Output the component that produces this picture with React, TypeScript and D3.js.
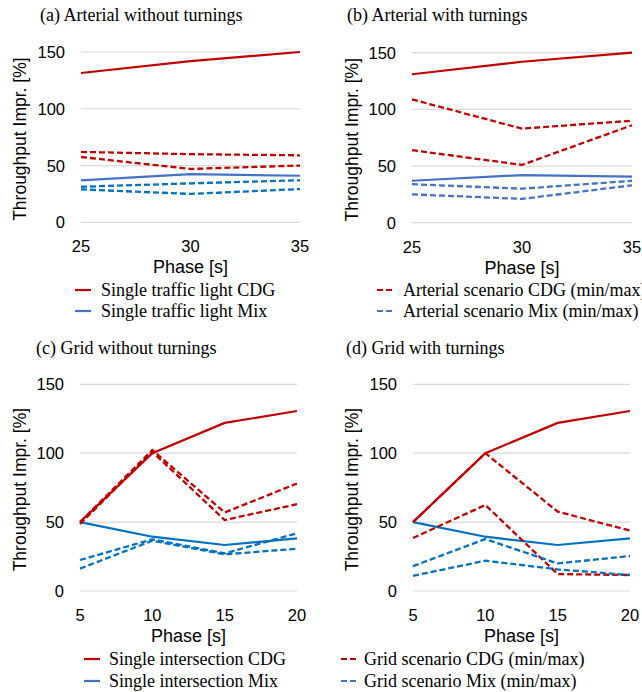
import { useEffect, useRef } from "react";
import * as d3 from "d3";

// phase values (x) for the two scenario groups
const arterialPhases = [25, 30, 35];
const gridPhases = [5, 10, 15, 20];
const yTicks = [0, 50, 100, 150];

// (a) Arterial without turnings
const aSingleCdg = [131.5, 142, 150];
const aSingleMix = [37, 42.5, 41];
const aCdgMax = [62, 60, 59];
const aCdgMin = [57.5, 47, 50];
const aMixMax = [31.3, 34.3, 37];
const aMixMin = [29, 25, 29.3];

// (b) Arterial with turnings
const bSingleCdg = [131, 142, 150];
const bSingleMix = [37, 42, 40.6];
const bCdgMax = [108.8, 83, 90];
const bCdgMin = [64, 51, 86];
const bMixMax = [34, 30, 37];
const bMixMin = [25, 21, 33];

// (c) Grid without turnings
const cSingleCdg = [50, 100, 122, 130.6];
const cSingleMix = [50, 39.4, 33.4, 38.2];
const cCdgMax = [50, 102.3, 57, 78];
const cCdgMin = [48.6, 101, 51.5, 63];
const cMixMax = [22.5, 37.5, 27.3, 41.9];
const cMixMin = [16.2, 36.5, 26.6, 30.7];

// (d) Grid with turnings
const dSingleCdg = [50, 100, 122, 130.6];
const dSingleMix = [50, 39.4, 33.4, 38.2];
const dCdgMax = [50, 100, 57.6, 43.8];
const dCdgMin = [38.5, 62.4, 12.3, 11.6];
const dMixMax = [18, 37.7, 20, 25.4];
const dMixMin = [11, 22, 15.7, 11.6];

const RED = "#C00000";
const BLUE_A = "#4472C4";
const BLUE_B = "#0070C0";
const SANS = "'Liberation Sans', Arial, sans-serif";
const SERIF = "'Liberation Serif', 'Times New Roman', serif";

export default function App() {
  const svgRef = useRef(null);

  useEffect(() => {
    const svg = d3.select(svgRef.current);
    svg.selectAll("*").remove();

    const panels = [
      {
        title: "(a) Arterial without turnings", tx: 40, ty: 21,
        x0: 81, x1: 300, y0: 222.3, y1: 52, labelX: 20, phases: arterialPhases,
        solidBlue: BLUE_A, dashBlue: BLUE_B,
        series: [aSingleCdg, aSingleMix, aCdgMax, aCdgMin, aMixMax, aMixMin],
      },
      {
        title: "(b) Arterial with turnings", tx: 347, ty: 21,
        x0: 412, x1: 632, y0: 222.7, y1: 52.7, labelX: 352, phases: arterialPhases,
        solidBlue: BLUE_A, dashBlue: BLUE_A,
        series: [bSingleCdg, bSingleMix, bCdgMax, bCdgMin, bMixMax, bMixMin],
      },
      {
        title: "(c) Grid without turnings", tx: 36, ty: 354,
        x0: 80, x1: 297, y0: 591, y1: 384.3, labelX: 20, phases: gridPhases,
        solidBlue: BLUE_B, dashBlue: BLUE_B,
        series: [cSingleCdg, cSingleMix, cCdgMax, cCdgMin, cMixMax, cMixMin],
      },
      {
        title: "(d) Grid with turnings", tx: 346, ty: 354,
        x0: 413, x1: 630, y0: 591, y1: 384.3, labelX: 352, phases: gridPhases,
        solidBlue: BLUE_B, dashBlue: BLUE_B,
        series: [dSingleCdg, dSingleMix, dCdgMax, dCdgMin, dMixMax, dMixMin],
      },
    ];

    panels.forEach((p) => {
      const g = svg.append("g");
      const x = d3
        .scaleLinear()
        .domain(d3.extent(p.phases))
        .range([p.x0, p.x1]);
      const y = d3.scaleLinear().domain([0, 150]).range([p.y0, p.y1]);

      g.append("text")
        .attr("x", p.tx)
        .attr("y", p.ty)
        .style("font-family", SERIF)
        .style("font-size", "18px")
        .text(p.title);

      // gridlines
      g.selectAll(".grid")
        .data(yTicks)
        .enter()
        .append("line")
        .attr("x1", p.x0)
        .attr("x2", p.x1)
        .attr("y1", (d) => y(d))
        .attr("y2", (d) => y(d))
        .attr("stroke", "#d9d9d9")
        .attr("stroke-width", 1.2);

      g.selectAll(".ytick")
        .data(yTicks)
        .enter()
        .append("text")
        .attr("x", p.x0 - 16)
        .attr("y", (d) => y(d) + 6)
        .attr("text-anchor", "end")
        .style("font-family", SANS)
        .style("font-size", "16.5px")
        .text((d) => d);

      g.selectAll(".xtick")
        .data(p.phases)
        .enter()
        .append("text")
        .attr("x", (d) => x(d))
        .attr("y", p.y0 + 30)
        .attr("text-anchor", "middle")
        .style("font-family", SANS)
        .style("font-size", "16.5px")
        .text((d) => d);

      g.append("text")
        .attr("x", (p.x0 + p.x1) / 2)
        .attr("y", p.y0 + 51)
        .attr("text-anchor", "middle")
        .style("font-family", SANS)
        .style("font-size", "18px")
        .text("Phase [s]");

      g.append("text")
        .attr("transform", `translate(${p.labelX + 6}, ${(p.y0 + p.y1) / 2 + 2}) rotate(-90)`)
        .attr("text-anchor", "middle")
        .style("font-family", SANS)
        .style("font-size", "17.5px")
        .text("Throughput Impr. [%]");

      const line = d3
        .line()
        .x((d, i) => x(p.phases[i]))
        .y((d) => y(d));

      const styles = [
        { c: RED, dash: null },
        { c: p.solidBlue, dash: null },
        { c: RED, dash: "6,3" },
        { c: RED, dash: "6,3" },
        { c: p.dashBlue, dash: "6,3" },
        { c: p.dashBlue, dash: "6,3" },
      ];
      p.series.forEach((s, i) => {
        g.append("path")
          .datum(s)
          .attr("d", line)
          .attr("fill", "none")
          .attr("stroke", styles[i].c)
          .attr("stroke-width", styles[i].dash ? 2.3 : 2.2)
          .attr("stroke-dasharray", styles[i].dash);
      });
    });

    // legends
    const legends = [
      { x: 75, tx: 101, y: 290, text: "Single traffic light CDG", c: RED, dash: null },
      { x: 75, tx: 101, y: 311, text: "Single traffic light Mix", c: BLUE_A, dash: null },
      { x: 377, tx: 403, y: 290, text: "Arterial scenario CDG (min/max)", c: RED, dash: "6,3" },
      { x: 377, tx: 403, y: 311, text: "Arterial scenario Mix (min/max)", c: BLUE_A, dash: "6,3" },
      { x: 84, tx: 109, y: 659, text: "Single intersection CDG", c: RED, dash: null },
      { x: 84, tx: 109, y: 681, text: "Single intersection Mix", c: BLUE_A, dash: null },
      { x: 341, tx: 364, y: 659, text: "Grid scenario CDG (min/max)", c: RED, dash: "6,3" },
      { x: 341, tx: 364, y: 681, text: "Grid scenario Mix (min/max)", c: BLUE_A, dash: "6,3" },
    ];

    legends.forEach((l) => {
      svg
        .append("line")
        .attr("x1", l.x)
        .attr("x2", l.x + 16)
        .attr("y1", l.y)
        .attr("y2", l.y)
        .attr("stroke", l.c)
        .attr("stroke-width", 2.2)
        .attr("stroke-dasharray", l.dash ? "6,3" : null);
      svg
        .append("text")
        .attr("x", l.tx)
        .attr("y", l.y + 6)
        .style("font-family", SERIF)
        .style("font-size", "18px")
        .text(l.text);
    });
  }, []);

  return (
    <svg
      ref={svgRef}
      width={642}
      height={692}
      style={{ position: "absolute", left: 0, top: 0, background: "#fff" }}
    ></svg>
  );
}
